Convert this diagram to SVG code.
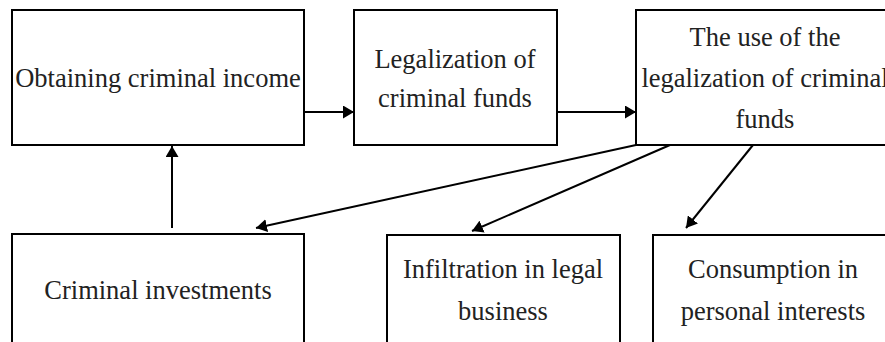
<svg xmlns="http://www.w3.org/2000/svg" width="885" height="342" viewBox="0 0 885 342">
<style>
.box{fill:#fff;stroke:#000;stroke-width:2}
.t{font-family:'Liberation Serif',Tinos,'Times New Roman','DejaVu Serif',serif;font-size:26.5px;fill:#222;text-anchor:middle}
.c{stroke:#000;stroke-width:2;fill:none;marker-end:url(#ah)}
</style>
<defs>
<marker id="ah" viewBox="0 0 11 13" refX="11" refY="6.5" markerWidth="11" markerHeight="13" markerUnits="userSpaceOnUse" orient="auto">
<path d="M0,0 L11,6.5 L0,13 Z" fill="#000"/>
</marker>
</defs>
<rect width="885" height="342" fill="#fff"/>
<g id="n1"><rect class="box" x="12" y="10" width="292" height="135"/><text class="t" x="158" y="87">Obtaining criminal income</text></g>
<g id="n2"><rect class="box" x="354" y="10" width="203" height="135"/><text class="t" x="455" y="68">Legalization of</text><text class="t" x="455" y="107">criminal funds</text></g>
<g id="n3"><rect class="box" x="636" y="10" width="260" height="135"/><text class="t" x="765" y="46">The use of the</text><text class="t" x="765" y="87">legalization of criminal</text><text class="t" x="765" y="128">funds</text></g>
<g id="n4"><rect class="box" x="12" y="234" width="292" height="120"/><text class="t" x="158" y="299">Criminal investments</text></g>
<g id="n5"><rect class="box" x="387" y="235" width="233" height="120"/><text class="t" x="503" y="278">Infiltration in legal</text><text class="t" x="503" y="320">business</text></g>
<g id="n6"><rect class="box" x="653" y="235" width="245" height="120"/><text class="t" x="773" y="278">Consumption in</text><text class="t" x="773" y="320">personal interests</text></g>
<g id="connectors">
<line class="c" x1="304" y1="112" x2="354" y2="112"/>
<line class="c" x1="557" y1="112" x2="636" y2="112"/>
<line class="c" x1="172" y1="228" x2="172" y2="146"/>
<line class="c" x1="636" y1="145" x2="256" y2="228"/>
<line class="c" x1="670" y1="145" x2="472" y2="231"/>
<line class="c" x1="753" y1="145" x2="686" y2="228"/>
</g>
</svg>
